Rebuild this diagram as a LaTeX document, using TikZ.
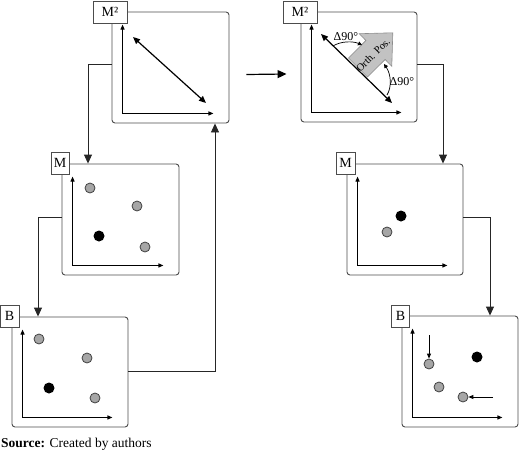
\documentclass[tikz,border=0pt]{standalone}
\usepackage{fontspec}
\setmainfont{Liberation Serif}
\usetikzlibrary{arrows.meta}
\begin{document}
\begin{tikzpicture}[x=1pt,y=-1pt,
 panelbox/.style={draw=black!70, line width=0.9pt, rounded corners=3pt, inner sep=0pt},
 tagbox/.style={draw=black!70, line width=0.8pt, fill=white, inner sep=0pt, minimum height=22pt, font=\fontsize{14}{16}\selectfont},
 conn/.style={draw=black!85, line width=0.9pt, -{Triangle[length=9pt,width=8pt]}},
 axisline/.style={black, line width=1.1pt, {Triangle[length=5pt,width=4pt]}-{Triangle[length=5pt,width=4pt]}},
 dbl/.style={black, line width=1.2pt, {Triangle[length=7pt,width=6pt]}-{Triangle[length=7pt,width=6pt]}},
 gdot/.style={circle, draw=black!75, fill=black!35, line width=0.8pt, minimum size=10pt, inner sep=0pt},
 bdot/.style={circle, fill=black, minimum size=11pt, inner sep=0pt},
 smallarr/.style={black, line width=0.9pt, -{Triangle[length=5pt,width=4pt]}},
 arcarr/.style={black, line width=0.7pt, -{Triangle[length=4pt,width=4pt]}},
 deg/.style={font=\fontsize{12}{14}\selectfont, inner sep=0pt},
]
\useasboundingbox (0,0) rectangle (520,455);
\newcommand\drawaxes[1]{\draw[axisline] ([shift={(11,13)}]#1.north west) |- ([shift={(-16,-10)}]#1.south east);}

% panels
\node[panelbox, minimum width=117pt, minimum height=111pt] (p1) at (170.5,67.5) {};
\node[panelbox, minimum width=116pt, minimum height=110pt] (p2) at (359,67) {};
\node[panelbox, minimum width=117pt, minimum height=111pt] (m1) at (120.5,219.5) {};
\node[panelbox, minimum width=116pt, minimum height=111pt] (m2) at (405,219.5) {};
\node[panelbox, minimum width=116pt, minimum height=110pt] (b1) at (70,372) {};
\node[panelbox, minimum width=116pt, minimum height=111pt] (b2) at (460,371.5) {};

% axes
\drawaxes{p1}
\drawaxes{p2}
\drawaxes{m1}
\drawaxes{m2}
\drawaxes{b1}
\drawaxes{b2}

% connectors
\coordinate (c1) at (88,64);
\coordinate (c2) at (38,217);
\coordinate (c3) at (215,371);
\coordinate (c5) at (443,64);
\coordinate (c6) at (490,217);
\draw[conn] (c1 -| p1.west) -- (c1) -- (c1 |- m1.north);
\draw[conn] (c2 -| m1.west) -- (c2) -- (c2 |- b1.north);
\draw[conn] (c3 -| b1.east) -- (c3) -- (c3 |- p1.south);
\draw[conn, line width=1.2pt, draw=black] ([shift={(17,7)}]p1.east) -- ([shift={(-14,7)}]p2.west);
\draw[conn] (c5 -| p2.east) -- (c5) -- (c5 |- m2.north);
\draw[conn] (c6 -| m2.east) -- (c6) -- (c6 |- b2.north);

% tags
\node[tagbox, minimum width=34pt] (t1) at (110,12) {M²};
\node[tagbox, minimum width=34pt] (t2) at (300,12) {M²};
\node[tagbox, minimum width=18pt] (t3) at (60,163) {M};
\node[tagbox, minimum width=19pt] (t4) at (345.5,163) {M};
\node[tagbox, minimum width=19pt] (t5) at (9.5,316) {B};
\node[tagbox, minimum width=18pt] (t6) at (400.5,316) {B};

% top-left double arrow
\coordinate (d1a) at (133,37);
\coordinate (d1b) at (206,103);
\draw[dbl] (d1a) -- (d1b);

% top-right: orthogonal arrow
\fill[black!24, draw=black!45, line width=0.6pt]
 (348.5,58) -- (365.9,40.5) -- (359.2,33.7) -- (392.8,32.8) -- (391.8,66.3) -- (385.1,59.5) -- (367.5,77) -- cycle;
\node[font=\fontsize{10.5}{12}\selectfont, rotate=45, inner sep=0pt] (orth) at (373,55) {Orth. Pos.};
\coordinate (d2a) at (321,34);
\coordinate (d2b) at (392,103);
\draw[dbl] (d2a) -- (d2b);
\coordinate (a1s) at (333,46);
\coordinate (a1e) at (362,45);
\draw[arcarr] (a1s) .. controls (341,41) and (353,41) .. (a1e);
\coordinate (a2s) at (387,95);
\coordinate (a2e) at (384,64);
\draw[arcarr] (a2s) .. controls (392,87) and (391,74) .. (a2e);
\node[deg] (g1) at (346,36.5) {Δ90°};
\node[deg] (g2) at (402,82) {Δ90°};

% dots M left
\node[gdot] (m1a) at (90,188) {};
\node[gdot] (m1b) at (137,206) {};
\node[bdot] (m1c) at (99,236) {};
\node[gdot] (m1d) at (145,247) {};
% dots B left
\node[gdot] (b1a) at (39,339) {};
\node[gdot] (b1b) at (87,358) {};
\node[bdot] (b1c) at (49,388) {};
\node[gdot] (b1d) at (95,398) {};
% dots M right
\node[bdot] (m2a) at (401,216) {};
\node[gdot] (m2b) at (387,232) {};
% dots B right
\node[gdot] (b2a) at (429,364) {};
\node[bdot] (b2b) at (477,357) {};
\node[gdot] (b2c) at (439,387) {};
\node[gdot] (b2d) at (463,397) {};
\coordinate (s1) at (429,335);
\coordinate (s2) at (493,397);
\draw[smallarr] (s1) -- (b2a.north);
\draw[smallarr] (s2) -- (b2d.east);

% source
\node[anchor=base west, inner sep=0pt, font=\fontsize{13.5}{15}\selectfont] (src) at (1,447) {\textbf{Source:} Created by authors};
\end{tikzpicture}
\end{document}
